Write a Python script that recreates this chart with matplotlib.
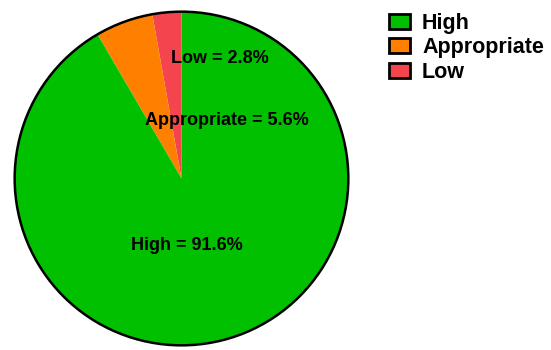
import matplotlib.pyplot as plt
from matplotlib.patches import Patch, Circle

plt.rcParams['font.family'] = ['Liberation Sans', 'DejaVu Sans']
plt.rcParams['font.weight'] = 'bold'

# wedges drawn counter-clockwise from the top
categories = ['Low', 'Appropriate', 'High']
values = [2.8, 5.6, 91.6]
colors = ['#F4444E', '#FF8000', '#00C000']
label_pos = [(0.23, 0.72), (0.27, 0.35), (0.03, -0.40)]

fig = plt.figure(figsize=(5.51, 3.5), dpi=100)
ax = fig.add_axes([13 / 551, 3 / 350, 337 / 551, 337 / 350])

ax.pie(values, colors=colors, startangle=90, counterclock=True,
       radius=1, wedgeprops={'linewidth': 0})
ax.add_patch(Circle((0, 0), 1, fill=False, ec='black', lw=1.8))

for cat, v, (x, y) in zip(categories, values, label_pos):
    ax.text(x, y, '{} = {}%'.format(cat, v), ha='center', va='center',
            fontsize=13, fontweight='bold')

ax.set_xlim(-1.01, 1.01)
ax.set_ylim(-1.01, 1.01)
ax.set_aspect('equal')
ax.axis('off')

# legend order: High, Appropriate, Low
handles = [Patch(fc=colors[i], ec='black', lw=2, label=categories[i]) for i in [2, 1, 0]]
fig.legend(handles=handles, loc='upper left', bbox_to_anchor=(380 / 551, 1 - 4 / 350),
           frameon=False, fontsize=15.5, handlelength=1.0, handleheight=0.7,
           handletextpad=0.55, labelspacing=0.18, borderaxespad=0)

plt.savefig('out.png', dpi=100)
